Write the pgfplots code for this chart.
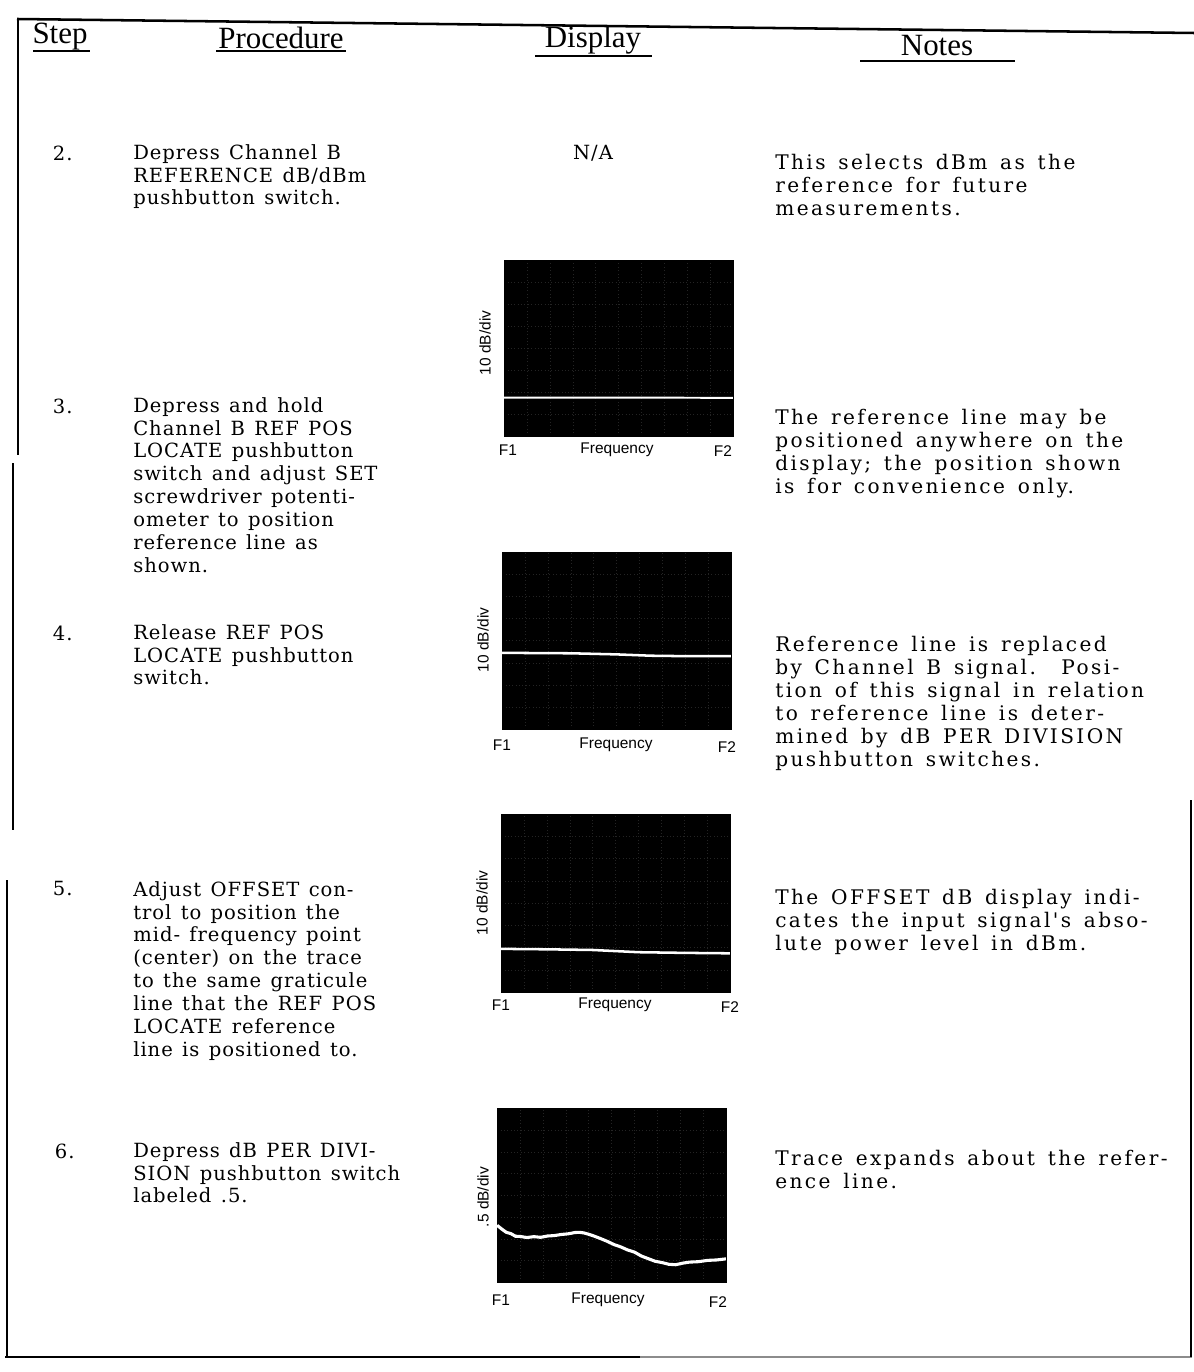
\documentclass[border=0pt]{standalone}
\usepackage{pgfplots}
\pgfplotsset{compat=1.18}
\usepackage{fontspec}
\setmainfont{DejaVu Serif}
\newfontfamily\procfont{DejaVu Serif}[LetterSpace=5, WordSpace=1.3]
\newfontfamily\notefont{DejaVu Serif}[LetterSpace=12, WordSpace=1.45]
\newfontfamily\headfont{Liberation Serif}
\newfontfamily\labfont{Liberation Sans}
\newcommand{\pf}{\procfont\fontsize{13.9}{16.3}\selectfont}
\newcommand{\nf}{\notefont\fontsize{14.3}{16.4}\selectfont}
\newcommand{\hf}{\headfont\fontsize{22}{24}\selectfont}
\newcommand{\lf}{\labfont\fontsize{11}{13}\selectfont}
\pgfplotsset{crt/.style={scale only axis, width=5.72cm, height=4.4cm,
  xmin=0, xmax=10, ymin=0, ymax=8,
  axis background/.style={fill=black},
  xtick={1,...,9}, ytick={1,...,7}, xticklabels={}, yticklabels={},
  major tick length=0pt, grid=major,
  major grid style={dotted, line width=0.4pt, black!86},
  axis line style={black, line width=0.6pt}, anchor=south west}}
\begin{document}
\begin{tikzpicture}[x=0.025cm, y=-0.025cm]
\path[use as bounding box] (0,0) rectangle (1194,1372);
% frame
\draw[line width=1.8pt] (17,19) -- (1194,33);
\draw[line width=1.3pt] (18,19) -- (18,455);
\draw[line width=1.3pt] (13,463) -- (13,830);
\draw[line width=1.3pt] (7,880) -- (7,1357);
\draw[line width=1.6pt] (5,1357) -- (640,1357);
\draw[line width=1.3pt, black!45] (640,1357) -- (1192,1357);
\draw[line width=1.3pt] (1191,800) -- (1191,1357);
% headers
\node[font=\hf] at (60,37) {Step};
\node[font=\hf] at (281,38) {Procedure};
\node[font=\hf] at (593,40) {Display};
\node[font=\hf] at (937,46) {Notes};
\draw[line width=0.9pt] (33,51) -- (90,51);
\draw[line width=0.9pt] (216,51) -- (346,51);
\draw[line width=0.9pt] (535,56) -- (652,56);
\draw[line width=0.9pt] (860,61) -- (1015,61);
% step numbers
\node[font=\pf, anchor=west] at (48,153) {2.};
\node[font=\pf, anchor=west] at (48,406) {3.};
\node[font=\pf, anchor=west] at (48,633) {4.};
\node[font=\pf, anchor=west] at (48,889) {5.};
\node[font=\pf, anchor=west] at (50,1151) {6.};
% procedures
\node[font=\pf, anchor=north west, align=left, inner sep=0pt] at (133,144) {Depress Channel B\\REFERENCE dB/dBm\\pushbutton switch.};
\node[font=\pf, anchor=north west, align=left, inner sep=0pt] at (133,397) {Depress and hold\\Channel B REF POS\\LOCATE pushbutton\\switch and adjust SET\\screwdriver potenti-\\ometer to position\\reference line as\\shown.};
\node[font=\pf, anchor=north west, align=left, inner sep=0pt] at (133,624) {Release REF POS\\LOCATE pushbutton\\switch.};
\node[font=\pf, anchor=north west, align=left, inner sep=0pt] at (133,881) {Adjust OFFSET con-\\trol to position the\\mid- frequency point\\(center) on the trace\\to the same graticule\\line that the REF POS\\LOCATE reference\\line is positioned to.};
\node[font=\pf, anchor=north west, align=left, inner sep=0pt] at (133,1142) {Depress dB PER DIVI-\\SION pushbutton switch\\labeled .5.};
% display N/A
\node[font=\pf] at (593,153) {N/A};
% notes
\node[font=\nf, anchor=north west, align=left, inner sep=0pt] at (775,154) {This selects dBm as the\\reference for future\\measurements.};
\node[font=\nf, anchor=north west, align=left, inner sep=0pt] at (775,409) {The reference line may be\\positioned anywhere on the\\display; the position shown\\is for convenience only.};
\node[font=\nf, anchor=north west, align=left, inner sep=0pt] at (775,636) {Reference line is replaced\\by Channel B signal.\ \ Posi-\\tion of this signal in relation\\to reference line is deter-\\mined by dB PER DIVISION\\pushbutton switches.};
\node[font=\nf, anchor=north west, align=left, inner sep=0pt] at (775,889) {The OFFSET dB display indi-\\cates the input signal's abso-\\lute power level in dBm.};
\node[font=\nf, anchor=north west, align=left, inner sep=0pt] at (775,1150) {Trace expands about the refer-\\ence line.};
% display 1
\begin{axis}[crt, at={(12.6cm,-10.9cm)}, height=4.4cm]
\addplot[white, line width=1.4pt] coordinates {(0,1.75) (5,1.75) (10,1.74)};
\end{axis}
\node[font=\lf, rotate=90] at (485,343) {10 dB/div};
\node[font=\lf] at (508,450) {F1};
\node[font=\lf] at (617,450) {Frequency};
\node[font=\lf] at (723,451) {F2};
% display 2
\begin{axis}[crt, at={(12.55cm,-18.225cm)}, height=4.425cm]
\addplot[white, line width=1.8pt] coordinates {(0,3.45) (3,3.43) (5,3.38) (6.5,3.32) (8,3.3) (10,3.3)};
\end{axis}
\node[font=\lf, rotate=90] at (483,640) {10 dB/div};
\node[font=\lf] at (502,745) {F1};
\node[font=\lf] at (616,745) {Frequency};
\node[font=\lf] at (727,747) {F2};
% display 3
\begin{axis}[crt, at={(12.525cm,-24.8cm)}, height=4.45cm]
\addplot[white, line width=1.8pt] coordinates {(0,1.95) (2,1.93) (4,1.9) (5,1.85) (6,1.8) (8,1.77) (10,1.75)};
\end{axis}
\node[font=\lf, rotate=90] at (482,903) {10 dB/div};
\node[font=\lf] at (501,1005) {F1};
\node[font=\lf] at (615,1005) {Frequency};
\node[font=\lf] at (730,1007) {F2};
% display 4
\begin{axis}[crt, at={(12.425cm,-32.05cm)}, height=4.35cm]
\addplot[white, line width=2.2pt] coordinates {
(0,2.62) (0.2,2.45) (0.4,2.30) (0.6,2.24) (0.8,2.12) (1.0,2.11) (1.3,2.06) (1.6,2.10)
(1.9,2.07) (2.2,2.13) (2.5,2.15) (2.8,2.20) (3.1,2.23) (3.4,2.29) (3.6,2.30) (3.8,2.27)
(4.0,2.21) (4.2,2.14) (4.5,2.02) (4.8,1.89) (5.1,1.74) (5.4,1.63) (5.7,1.49) (6.0,1.39)
(6.3,1.21) (6.6,1.09) (6.9,0.97) (7.2,0.91) (7.5,0.83) (7.8,0.81) (8.1,0.88) (8.4,0.93)
(8.8,0.95) (9.2,1.01) (9.6,1.03) (10,1.08)};
\end{axis}
\node[font=\lf, rotate=90] at (483,1197) {.5 dB/div};
\node[font=\lf] at (501,1300) {F1};
\node[font=\lf] at (608,1300) {Frequency};
\node[font=\lf] at (718,1302) {F2};
\end{tikzpicture}
\end{document}
